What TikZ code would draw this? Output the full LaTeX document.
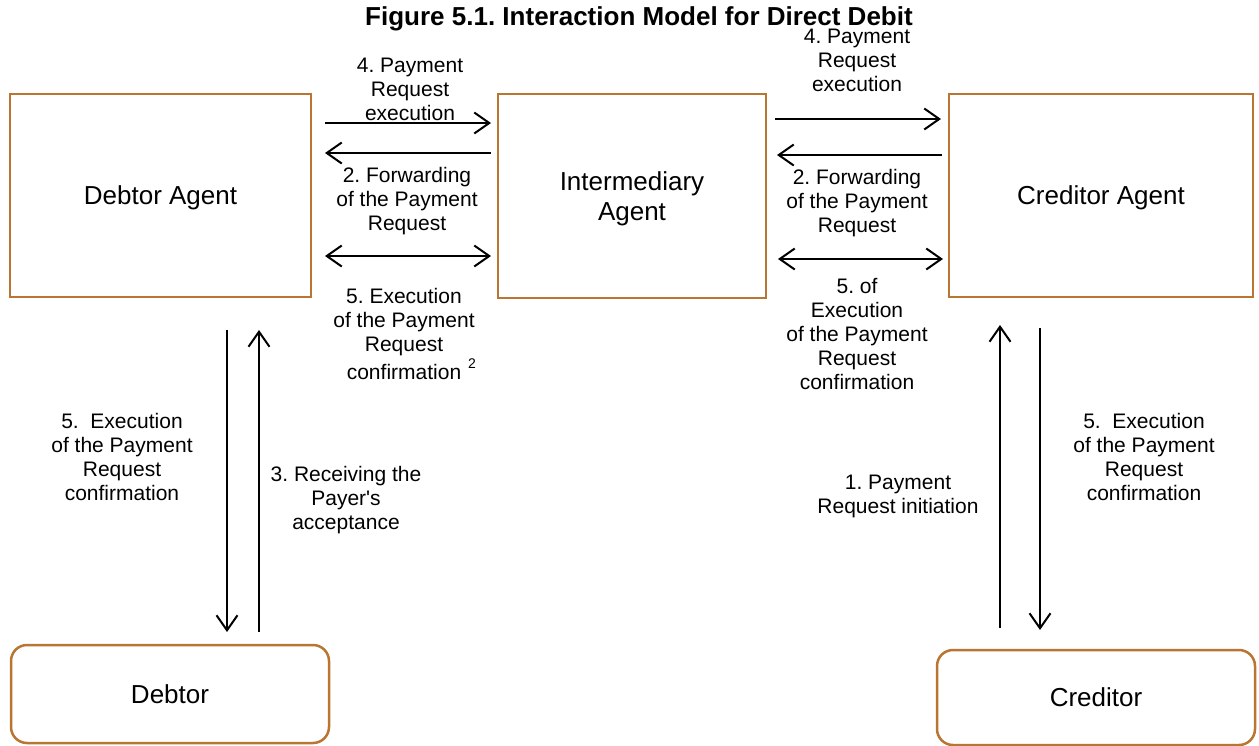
\documentclass[tikz,border=0pt]{standalone}
\usepackage{fontspec}
\setmainfont{Liberation Sans}
\usetikzlibrary{arrows.meta}
\definecolor{boxbrown}{RGB}{184,118,50}
\frenchspacing
\begin{document}
\begin{tikzpicture}[x=0.5pt,y=-0.5pt,
  >={Straight Barb[length=7.5pt,width=10.5pt,line width=1pt]},
  agentbox/.style={draw=boxbrown,line width=1.25pt,fill=white,align=center,
    font=\fontsize{13}{14.6}\selectfont,inner sep=0pt,text depth=0pt},
  partybox/.style={agentbox,rounded corners=8pt},
  msg/.style={align=center,font=\fontsize{10.5}{12}\selectfont,inner sep=0pt},
  arr/.style={line width=1pt,->},
  dblarr/.style={line width=1pt,<->}]
\useasboundingbox (0,0) rectangle (1259,745);

% title
\node[font=\fontsize{13}{15}\selectfont\bfseries,inner sep=0pt] (title) at (639,19)
  {Figure 5.1. Interaction Model for Direct Debit};

% agents
\node[agentbox,minimum width=150.5pt,minimum height=101.5pt] (DA) at (160.5,195.5) {Debtor Agent};
\node[agentbox,minimum width=134pt,minimum height=102pt] (IA) at (632,196) {Intermediary\\Agent};
\node[agentbox,minimum width=152pt,minimum height=101.5pt] (CA) at (1101,195.5) {Creditor Agent};

% parties
\node[partybox,minimum width=159pt,minimum height=49pt] (DB) at (170,694) {Debtor};
\node[partybox,minimum width=159pt,minimum height=47.5pt] (CR) at (1096,697.5) {Creditor};

% arrow end points between the boxes
\coordinate (l1a) at (325,123); \coordinate (l1b) at (491,123);
\coordinate (l2a) at (491,153); \coordinate (l2b) at (325,153);
\coordinate (l3a) at (325,256); \coordinate (l3b) at (491,256);
\coordinate (r1a) at (775,119); \coordinate (r1b) at (941,119);
\coordinate (r2a) at (942,155); \coordinate (r2b) at (777,155);
\coordinate (r3a) at (778,259); \coordinate (r3b) at (943,259);
\coordinate (v1a) at (227,330); \coordinate (v1b) at (227,632);
\coordinate (v2a) at (259,632); \coordinate (v2b) at (259,330);
\coordinate (v3a) at (1000,628); \coordinate (v3b) at (1000,325);
\coordinate (v4a) at (1040,328); \coordinate (v4b) at (1040,630);

\draw[arr] (l1a) -- (l1b);
\draw[arr] (l2a) -- (l2b);
\draw[dblarr] (l3a) -- (l3b);
\draw[arr] (r1a) -- (r1b);
\draw[arr] (r2a) -- (r2b);
\draw[dblarr] (r3a) -- (r3b);
\draw[arr] (v1a) -- (v1b);
\draw[arr] (v2a) -- (v2b);
\draw[arr] (v3a) -- (v3b);
\draw[arr] (v4a) -- (v4b);

% message labels
\node[msg] (m4l) at (410,89) {4. Payment\\Request\\execution};
\node[msg] (m2l) at (407,201) {2. Forwarding\\of the Payment\\Request};
\node[msg] (m5l) at (404,334) {5. Execution\\of the Payment\\Request\\confirmation\rlap{\,\,\raisebox{1ex}{\fontsize{7}{8}\selectfont 2}}};
\node[msg] (m4r) at (857,60) {4. Payment\\Request\\execution};
\node[msg] (m2r) at (857,203) {2. Forwarding\\of the Payment\\Request};
\node[msg] (m5r) at (857,334) {5. of\\Execution\\of the Payment\\Request\\confirmation};
\node[msg] (m5d) at (122,457) {5.\ \ Execution\\of the Payment\\Request\\confirmation};
\node[msg] (m3) at (346,500) {3. Receiving the\\Payer\textquotesingle s\\acceptance};
\node[msg] (m1) at (898,496) {1. Payment\\Request initiation};
\node[msg] (m5c) at (1144,457) {5.\ \ Execution\\of the Payment\\Request\\confirmation};
\end{tikzpicture}
\end{document}
